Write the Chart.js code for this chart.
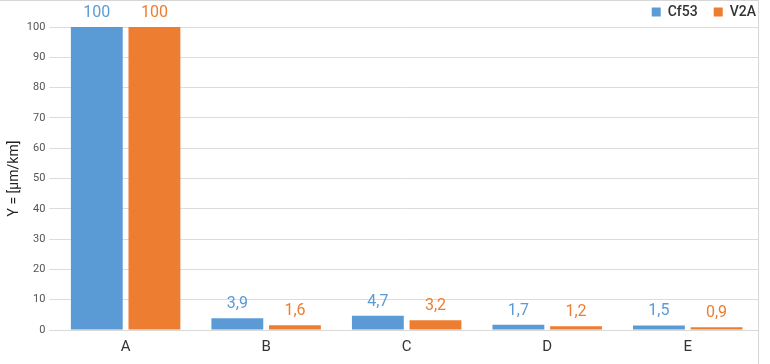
<!DOCTYPE html>
<html>
<head>
<meta charset="utf-8">
<script src="https://cdn.jsdelivr.net/npm/chart.js@4"></script>
<style>
  html, body { margin: 0; padding: 0; background: #fff; }
  #wrap { position: relative; width: 758px; height: 363px; border-top: 1px solid #d6d6d6; border-right: 1px solid #d6d6d6; }
</style>
</head>
<body>
<div id="wrap"><canvas id="chart"></canvas></div>
<script>
const categories = ["A", "B", "C", "D", "E"];
const cf53Values = [100, 3.9, 4.7, 1.7, 1.5];
const v2aValues = [100, 1.6, 3.2, 1.2, 0.9];
const yTicks = [0, 10, 20, 30, 40, 50, 60, 70, 80, 90, 100];

const blue = "#5b9bd5";
const orange = "#ed7d31";

// Draw the value above each bar, with a comma as decimal mark
const valueLabels = {
    id: "valueLabels",
    afterDatasetsDraw(chart) {
        const ctx = chart.ctx;
        ctx.save();
        ctx.font = "16px Roboto";
        ctx.textAlign = "center";
        ctx.textBaseline = "bottom";
        chart.data.datasets.forEach((ds, i) => {
            const meta = chart.getDatasetMeta(i);
            meta.data.forEach((bar, j) => {
                const v = ds.data[j];
                const text = Number.isInteger(v) ? String(v) : v.toFixed(1).replace(".", ",");
                ctx.fillStyle = ds.backgroundColor;
                ctx.fillText(text, bar.x, bar.y - 6);
            });
        });
        ctx.restore();
    },
};

// Nudge the legend toward the top right corner
const legendNudge = {
    id: "legendNudge",
    afterLayout(chart) {
        const lg = chart.legend;
        if (!lg) return;
        lg.left += 14;
        lg.right += 14;
        lg.top += 2;
        lg.bottom += 2;
    },
};

const ctx = document.getElementById("chart").getContext("2d");
new Chart(ctx, {
    type: "bar",
    data: {
        labels: categories,
        datasets: [
            {
                label: "Cf53",
                data: cf53Values,
                backgroundColor: blue,
                categoryPercentage: 0.82,
                barPercentage: 0.9,
            },
            {
                label: "V2A",
                data: v2aValues,
                backgroundColor: orange,
                categoryPercentage: 0.82,
                barPercentage: 0.9,
            },
        ],
    },
    options: {
        responsive: true,
        maintainAspectRatio: false,
        animation: false,
        layout: { padding: { top: -14, right: 0, left: 6, bottom: 0 } },
        plugins: {
            legend: {
                position: "top",
                align: "end",
                labels: {
                    boxWidth: 9,
                    boxHeight: 9,
                    padding: 16,
                    color: "#333",
                    font: { family: "Roboto", size: 14, weight: "500" },
                },
            },
            tooltip: { enabled: false },
        },
        scales: {
            x: {
                grid: { display: false, drawTicks: false },
                border: { color: "#d9d9d9" },
                ticks: {
                    color: "#333",
                    padding: 8,
                    font: { family: "Roboto", size: 15 },
                },
            },
            y: {
                min: 0,
                max: 100,
                afterBuildTicks: axis => {
                    axis.ticks = yTicks.map(v => ({ value: v }));
                },
                grid: { color: "#dcdcdc", tickLength: 6, drawTicks: true },
                border: { display: false },
                ticks: {
                    color: "#555",
                    padding: 4,
                    font: { family: "Roboto", size: 11 },
                },
                title: {
                    display: true,
                    text: "Y = [µm/km]",
                    color: "#222",
                    padding: { top: 0, bottom: 0 },
                    font: { family: "Roboto", size: 14 },
                },
            },
        },
    },
    plugins: [valueLabels, legendNudge],
});
</script>
</body>
</html>
